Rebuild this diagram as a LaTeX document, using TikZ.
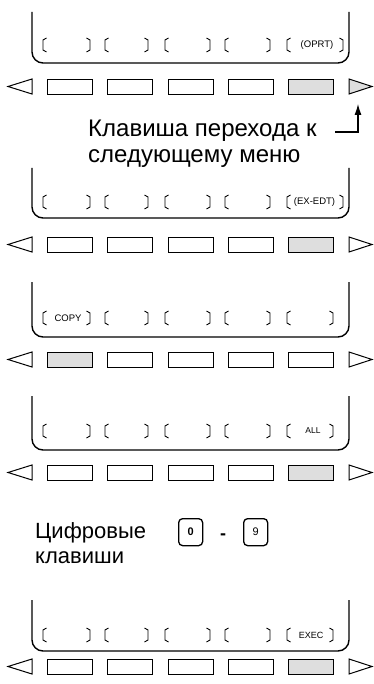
\documentclass[tikz,border=0pt]{standalone}
\usepackage{fontspec}
\setmainfont{Liberation Sans}
\usetikzlibrary{arrows.meta}
\definecolor{keygray}{gray}{0.87}
\tikzset{
  softkey/.style={draw, line width=1pt, minimum width=45pt, minimum height=15pt, inner sep=0pt, anchor=north},
  screenline/.style={line width=1.4pt, rounded corners=11pt},
  bracketline/.style={line width=0.9pt},
  navtri/.style={line width=1pt, line join=miter},
  lbl/.style={font=\fontsize{9.5}{9.5}\selectfont, inner sep=0pt},
  bigtext/.style={align=left, inner sep=0pt, anchor=base west},
  digitkey/.style={draw, line width=1.3pt, rounded corners=4pt, minimum width=24pt, minimum height=27pt, inner sep=0pt, anchor=north west},
}
% #1 top, #2 bottom, #3 bracket mid y, #4 key top, #5 lit key, #6 right x of last bracket, #7 row name, #8 fill of right triangle
\newcommand\screenrow[8]{%
  \draw[screenline] (32,#1) -- (32,#2) -- (349,#2) -- (349,#1);
  \foreach \bl/\br in {43/90,105/148,165/210,225/270,287/#6} {
    \draw[bracketline] (\bl+3.5,#3-7) -- (\bl,#3-5) -- (\bl,#3+5) -- (\bl+3.5,#3+7);
    \draw[bracketline] (\br-3.5,#3-7) -- (\br,#3-5) -- (\br,#3+5) -- (\br-3.5,#3+7);
  }
  \foreach \i/\cx in {1/69.5,2/130,3/190.5,4/251,5/311} {
    \ifnum\i=#5
      \node[softkey, fill=keygray] (#7k\i) at (\cx,#4) {};
    \else
      \node[softkey] (#7k\i) at (\cx,#4) {};
    \fi
  }
  \draw[navtri] (32,#4) -- (8,#4+7.5) -- (32,#4+15) -- cycle;
  \draw[navtri, fill=#8] (349,#4) -- (372,#4+7.5) -- (349,#4+15) -- cycle;
}
\begin{document}
\begin{tikzpicture}[x=1pt,y=-1pt]
\useasboundingbox (0,0) rectangle (374,684);

% row 1
\screenrow{12}{63}{45}{79}{5}{343}{a}{keygray}
\node[lbl] (la) at (317,45) {(OPRT)};

% explanatory text and arrow
\node[bigtext, font=\fontsize{24}{26}\selectfont] (nexttxt) at (88,163)
  {Клавиша перехода к\\ следующему меню};
\coordinate (arrstart) at (335,132);
\coordinate (arrtip) at (358,104);
\draw[line width=1.1pt, -{Latex[length=11pt,width=7pt]}] (arrstart) -| (arrtip);

% row 2
\screenrow{168}{218}{202}{237}{5}{343}{b}{white}
\node[lbl] (lb) at (314.5,202) {(EX-EDT)};

% row 3
\screenrow{282}{337}{318}{352}{1}{333}{c}{white}
\node[lbl] (lc) at (68,318) {COPY};

% row 4
\screenrow{396}{450}{431}{465}{5}{333}{d}{white}
\node[lbl, font=\fontsize{8.5}{8.5}\selectfont] (ld) at (313,431) {ALL};

% digit keys
\node[bigtext, font=\fontsize{22}{25}\selectfont] (digtxt) at (35,563) {Цифровые\\ клавиши};
\node[digitkey, font=\bfseries\fontsize{11}{11}\selectfont] (key0) at (178,518) {0};
\node[inner sep=0pt, font=\bfseries\fontsize{18}{18}\selectfont] (dash) at (223,537) {-};
\node[digitkey, font=\fontsize{11}{11}\selectfont] (key9) at (243,518) {9};

% row 5
\screenrow{600}{651}{635}{659}{5}{333}{e}{white}
\node[lbl, font=\fontsize{9}{9}\selectfont] (le) at (311,635) {EXEC};
\end{tikzpicture}
\end{document}
